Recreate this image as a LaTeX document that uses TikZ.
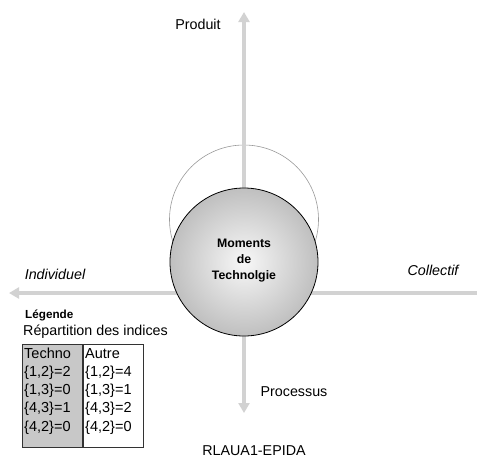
\documentclass[tikz,border=0pt]{standalone}
\usepackage{fontspec}
\setmainfont{Liberation Sans}
\usetikzlibrary{arrows.meta,shadings}
\definecolor{axisgray}{HTML}{D2D2D2}
\definecolor{boxgray}{HTML}{C8C8C8}
\tikzset{
  axis/.style={draw=axisgray,line width=4pt,-{Triangle[width=11pt,length=10pt]}},
  lbl/.style={inner sep=0pt,font=\fontsize{14.3}{16}\selectfont},
  ilbl/.style={lbl,font=\fontsize{14.3}{16}\selectfont\itshape},
  cell/.style={inner sep=0pt,anchor=base west,font=\fontsize{14.5}{16}\selectfont},
  colbox/.style={draw=black!80,line width=0.8pt},
}
\begin{document}
\begin{tikzpicture}[x=1pt,y=-1pt]
\useasboundingbox (0,0) rectangle (477,459);
% thin back circle
\node[circle,draw=gray!80,line width=0.6pt,minimum size=149pt,inner sep=0pt] (back) at (244,219.5) {};
% axis coordinates
\coordinate (top) at (244,12);
\coordinate (bot) at (244,413);
\coordinate (left) at (9,293);
\coordinate (right) at (477,293);
\coordinate (mid) at (244,293);
\draw[axis] (mid) -- (top);
\draw[axis] (mid) -- (bot);
\draw[axis] (right) -- (left);
% main circle
\node[circle,draw=black,line width=0.8pt,minimum size=148pt,inner sep=0pt,
  inner color=gray!6,outer color=gray!50] (core) at (244,262) {};
\node[inner sep=0pt,align=center,font=\fontsize{12.3}{16}\selectfont\bfseries] (coretxt) at (244,261)
  {Moments\\de\\Technolgie};
% labels
\node[lbl] (produit) at (198,24) {Produit};
\node[ilbl] (indiv) at (55,274) {Individuel};
\node[ilbl] (coll) at (433,270) {Collectif};
\node[lbl] (proc) at (294,392) {Processus};
\node[lbl] (ref) at (254,451) {RLAUA1-EPIDA};
% legend
\node[inner sep=0pt,anchor=base west,font=\fontsize{11.7}{14}\selectfont\bfseries] (leg) at (25,318) {Légende};
\node[inner sep=0pt,anchor=base west,font=\fontsize{14.3}{16}\selectfont] (rep) at (23,335) {Répartition des indices};
\node[colbox,fill=boxgray,minimum width=60pt,minimum height=103pt,inner sep=0pt] (techbox) at (52,395.5) {};
\node[colbox,fill=white,minimum width=60pt,minimum height=103pt,inner sep=0pt] (autbox) at (113,395.5) {};
\foreach \t [count=\i from 0] in {Techno,{\{1,2\}=2},{\{1,3\}=0},{\{4,3\}=1},{\{4,2\}=0}}
  \node[cell] (t\i) at (24,358+18.3*\i) {\t};
\foreach \t [count=\i from 0] in {Autre,{\{1,2\}=4},{\{1,3\}=1},{\{4,3\}=2},{\{4,2\}=0}}
  \node[cell] (a\i) at (85,358+18.3*\i) {\t};
\end{tikzpicture}
\end{document}
